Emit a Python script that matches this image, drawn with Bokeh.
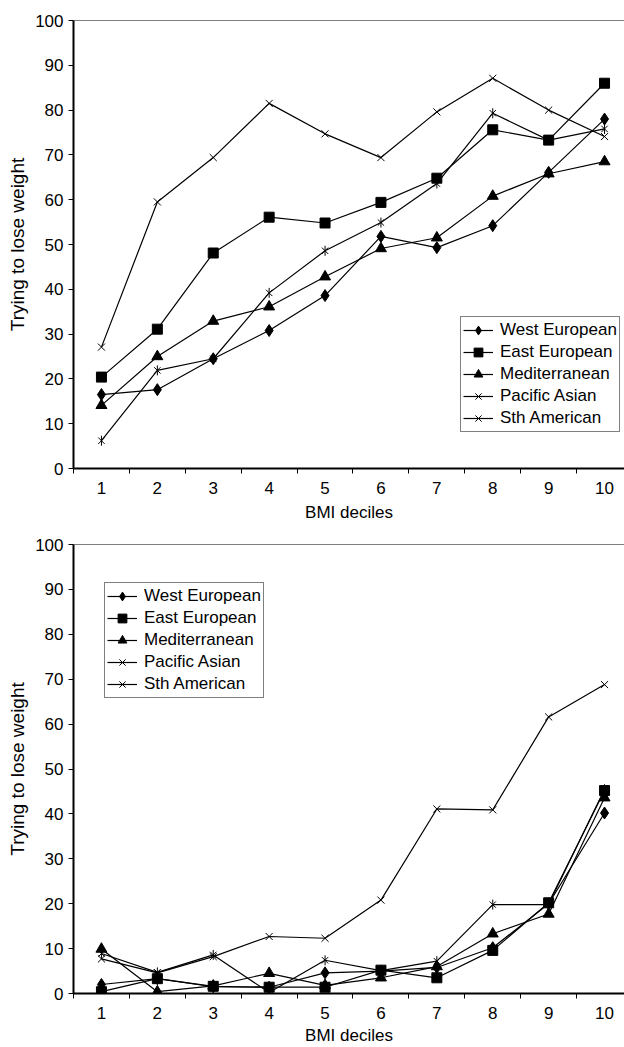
from bokeh.plotting import figure
from bokeh.models import FixedTicker, Span, Legend, LegendItem, Range1d
from bokeh.layouts import column
from bokeh.embed import file_html
from bokeh.resources import INLINE
import math

deciles = [1, 2, 3, 4, 5, 6, 7, 8, 9, 10]
series_names = ["West European", "East European", "Mediterranean", "Pacific Asian", "Sth American"]

# Top panel
top_west = [16.5, 17.6, 24.5, 30.8, 38.6, 51.8, 49.3, 54.2, 66.1, 78.0]
top_east = [20.4, 31.1, 48.1, 56.1, 54.8, 59.4, 64.8, 75.6, 73.3, 86.0]
top_med = [14.1, 25.0, 32.9, 36.1, 42.8, 49.1, 51.5, 60.8, 65.8, 68.5]
top_pacific = [27.1, 59.5, 69.4, 81.5, 74.7, 69.4, 79.6, 87.1, 80.0, 74.1]
top_sth = [6.2, 21.9, 24.5, 39.2, 48.6, 54.9, 63.6, 79.3, 73.3, 75.8]

# Bottom panel
bot_west = [2.0, 3.3, 1.5, 1.4, 4.6, 5.0, 5.8, 10.2, 20.0, 40.2]
bot_east = [0.4, 3.3, 1.6, 1.4, 1.4, 5.2, 3.5, 9.6, 20.2, 45.2]
bot_med = [9.9, 0.4, 1.7, 4.5, 1.8, 3.5, 6.0, 13.3, 17.7, 43.6]
bot_pacific = [7.7, 4.6, 8.2, 12.7, 12.3, 20.8, 41.1, 40.9, 61.6, 68.8]
bot_sth = [8.9, 4.7, 8.6, 0.2, 7.4, 5.1, 7.2, 19.8, 19.8, 45.5]

y_ticks = [0, 10, 20, 30, 40, 50, 60, 70, 80, 90, 100]
x_label = "BMI deciles"
y_label = "Trying to lose weight"

FONT = "Liberation Sans"


def make_panel(values, height, border_top, border_bottom, legend_xy, xlab_standoff):
    p = figure(width=624, height=height, output_backend="svg", toolbar_location=None,
               x_range=Range1d(0.5, 10.357), y_range=Range1d(0, 100),
               min_border_left=73, min_border_right=0,
               min_border_top=border_top, min_border_bottom=border_bottom,
               background_fill_color="white", border_fill_color="white")
    p.outline_line_color = None
    p.xgrid.visible = False
    p.ygrid.visible = False

    p.add_layout(Span(location=100, dimension="width", line_color="black", line_width=1))

    xa = p.xaxis[0]
    xa.ticker = FixedTicker(ticks=deciles, minor_ticks=[i + 0.5 for i in range(0, 11)])
    xa.major_tick_out = 0
    xa.major_tick_in = 0
    xa.minor_tick_out = 5
    xa.minor_tick_in = 0
    xa.minor_tick_line_color = "black"
    xa.axis_line_width = 2
    xa.axis_line_color = "black"
    xa.major_label_standoff = 8
    xa.major_label_text_font = FONT
    xa.major_label_text_font_size = "17px"
    xa.major_label_text_color = "black"
    xa.axis_label = x_label
    xa.axis_label_text_font = FONT
    xa.axis_label_text_font_size = "17px"
    xa.axis_label_text_font_style = "normal"
    xa.axis_label_text_color = "black"
    xa.axis_label_standoff = xlab_standoff

    ya = p.yaxis[0]
    ya.ticker = FixedTicker(ticks=y_ticks)
    ya.major_tick_out = 5
    ya.major_tick_in = 0
    ya.minor_tick_out = 0
    ya.minor_tick_in = 0
    ya.major_tick_line_color = "black"
    ya.axis_line_width = 2
    ya.axis_line_color = "black"
    ya.major_label_standoff = 5
    ya.major_label_text_font = FONT
    ya.major_label_text_font_size = "17px"
    ya.major_label_text_color = "black"
    ya.axis_label = y_label
    ya.axis_label_text_font = FONT
    ya.axis_label_text_font_size = "19px"
    ya.axis_label_text_font_style = "normal"
    ya.axis_label_text_color = "black"
    ya.axis_label_standoff = 4

    items = []
    markers = [("diamond", 12), ("square", 10), ("triangle", 11), ("x", 10), ("x", 9)]
    for name, vals, (mk, sz) in zip(series_names, values, markers):
        rl = p.line(deciles, vals, line_color="black", line_width=1.2)
        rends = [rl]
        filled = mk in ("diamond", "square", "triangle")
        rm = p.scatter(deciles, vals, marker=mk, size=sz, line_color="black", line_width=1,
                       fill_color="black" if filled else None)
        rends.append(rm)
        if name == "Sth American":
            rd = p.scatter(deciles, vals, marker="dash", size=sz + 1, angle=math.pi / 2,
                           line_color="black", line_width=1)
            rends.append(rd)
        items.append(LegendItem(label=name, renderers=rends))

    leg = Legend(items=items, location=legend_xy, padding=2, spacing=0, margin=0,
                 glyph_height=22, label_height=22, glyph_width=30, label_standoff=7,
                 label_text_font=FONT, label_text_font_size="17px", label_text_color="black",
                 border_line_color="black", border_line_width=1.3,
                 background_fill_color="white", background_fill_alpha=1.0)
    p.add_layout(leg)
    return p


top = make_panel([top_west, top_east, top_med, top_pacific, top_sth],
                 height=524, border_top=20, border_bottom=56, legend_xy=(387, 36), xlab_standoff=6)
bottom = make_panel([bot_west, bot_east, bot_med, bot_pacific, bot_sth],
                    height=523, border_top=20, border_bottom=54, legend_xy=(31, 295), xlab_standoff=4)

layout = column(top, bottom, spacing=0)
open("out.html", "w").write(file_html(layout, INLINE))
